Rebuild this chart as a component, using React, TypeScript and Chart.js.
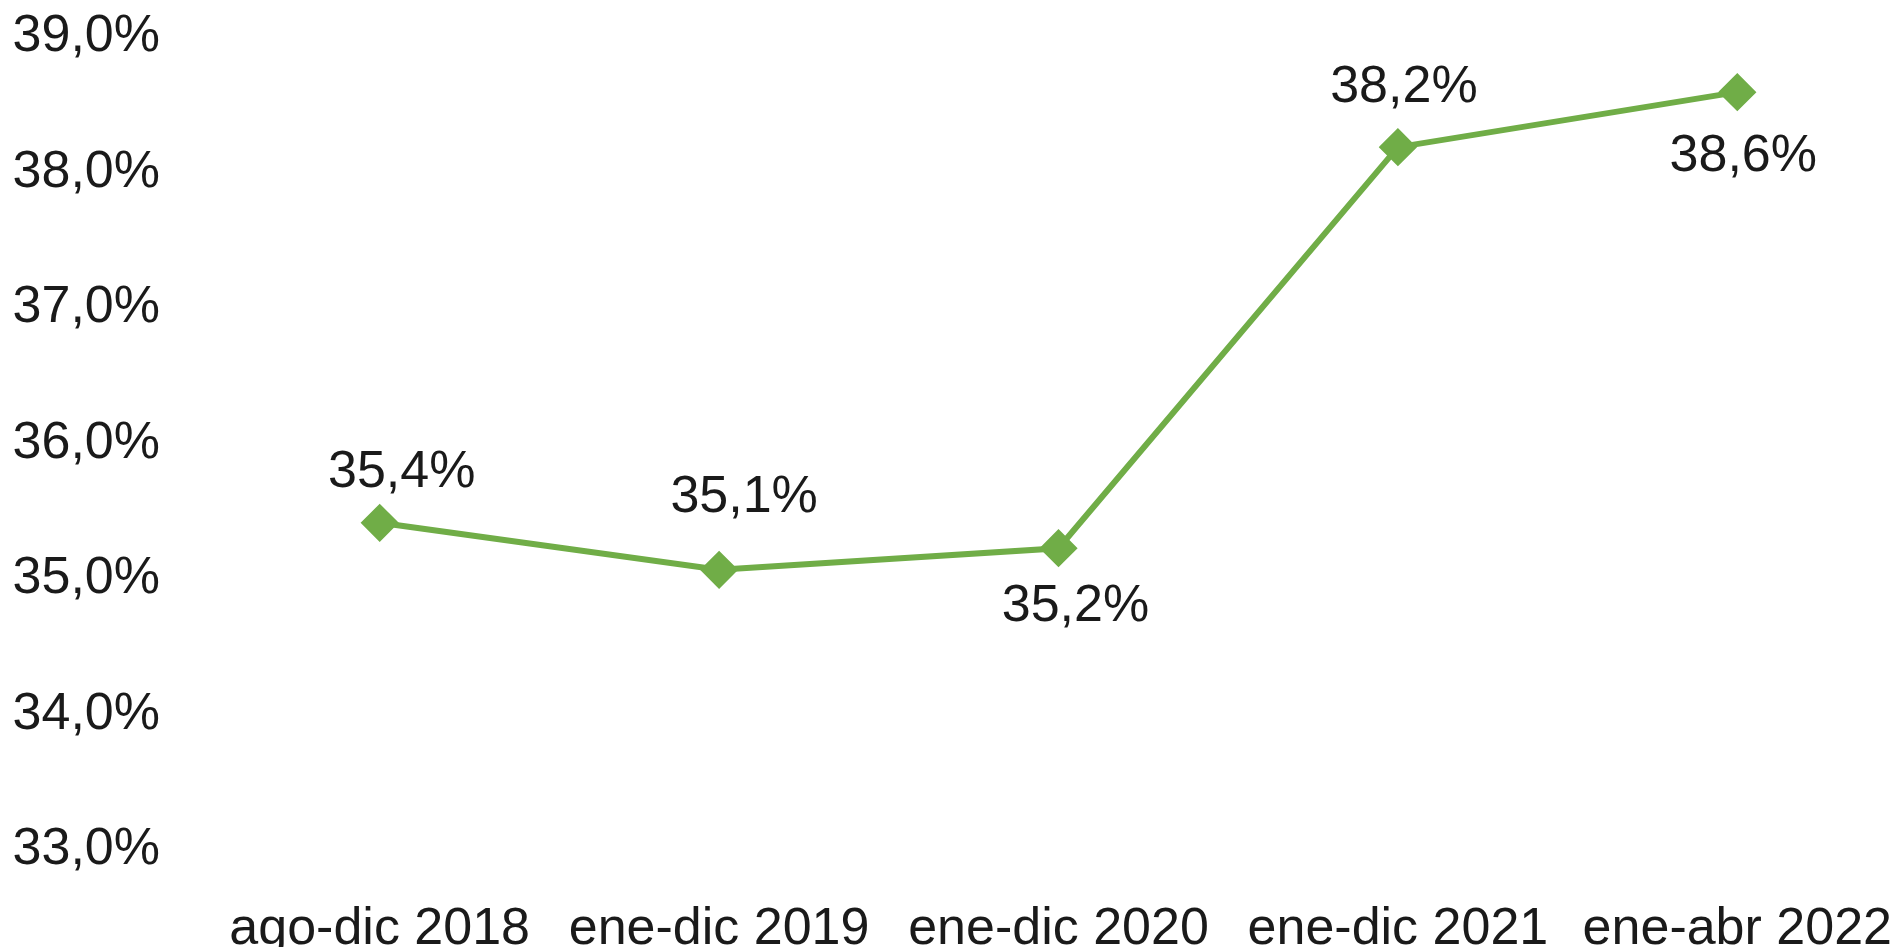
import React, { useEffect, useRef } from "react";
import { Chart, registerables } from "chart.js";

Chart.register(...registerables);

const categories = ["ago-dic 2018", "ene-dic 2019", "ene-dic 2020", "ene-dic 2021", "ene-abr 2022"];
const values = [35.415, 35.068, 35.227, 38.187, 38.593];
const yMin = 33;
const yMax = 39;
const yStep = 1;

// label placement relative to its point (pixels)
const labelOffsets = [
  { dx: 22, dy: -50 },
  { dx: 25, dy: -72 },
  { dx: 17, dy: 58 },
  { dx: 6, dy: -60 },
  { dx: 6, dy: 65 },
];

const FONT = "'Liberation Sans', Arial, sans-serif";
const TEXT = "#1a1a1a";
const GREEN = "#70AD47";
const FS = 52;

const fmt = (v: number) => v.toFixed(1).replace(".", ",") + "%";

const dataLabels = {
  id: "dataLabels",
  afterDatasetsDraw(chart: any) {
    const ctx = chart.ctx;
    const meta = chart.getDatasetMeta(0);
    ctx.save();
    ctx.font = `${FS}px ${FONT}`;
    ctx.fillStyle = TEXT;
    ctx.textAlign = "center";
    ctx.textBaseline = "middle";
    meta.data.forEach((pt: any, i: number) => {
      const o = labelOffsets[i];
      ctx.fillText(fmt(values[i]), pt.x + o.dx, pt.y + o.dy);
    });
    ctx.restore();
  },
};

export default function App() {
  const ref = useRef<HTMLCanvasElement>(null);
  useEffect(() => {
    if (!ref.current) return;
    const chart = new Chart(ref.current, {
      type: "line",
      data: {
        labels: categories,
        datasets: [
          {
            data: values,
            borderColor: GREEN,
            backgroundColor: GREEN,
            borderWidth: 6,
            pointStyle: "rectRot",
            pointRadius: 17,
            pointBorderWidth: 3,
            pointBackgroundColor: GREEN,
            pointBorderColor: GREEN,
            tension: 0,
          },
        ],
      },
      options: {
        responsive: false,
        animation: false,
        devicePixelRatio: 1,
        layout: { padding: { top: 37, left: 0, right: 0, bottom: 0 } },
        plugins: { legend: { display: false }, tooltip: { enabled: false } },
        scales: {
          x: {
            type: "category",
            offset: true,
            grid: { display: false, drawTicks: false },
            border: { display: false },
            ticks: { color: TEXT, font: { family: FONT, size: FS }, padding: 48, maxRotation: 0, autoSkip: false },
            afterFit: (s: any) => {
              s.height = 97;
              s.paddingLeft = 0;
              s.paddingRight = 0;
            },
          },
          y: {
            min: yMin,
            max: yMax,
            grid: { display: false, drawTicks: false },
            border: { display: false },
            ticks: {
              stepSize: yStep,
              color: TEXT,
              font: { family: FONT, size: FS },
              padding: 50,
              callback: (v: any) => fmt(Number(v)),
            },
            afterFit: (s: any) => {
              s.width = 210;
              s.paddingTop = 0;
              s.paddingBottom = 0;
            },
          },
        },
      },
      plugins: [dataLabels],
    });
    return () => chart.destroy();
  }, []);
  return (
    <div style={{ position: "fixed", left: 0, top: 0, width: 1893, height: 947, overflow: "hidden", background: "#fff" }}>
      <canvas ref={ref} width={1927} height={947} style={{ display: "block" }} />
    </div>
  );
}
